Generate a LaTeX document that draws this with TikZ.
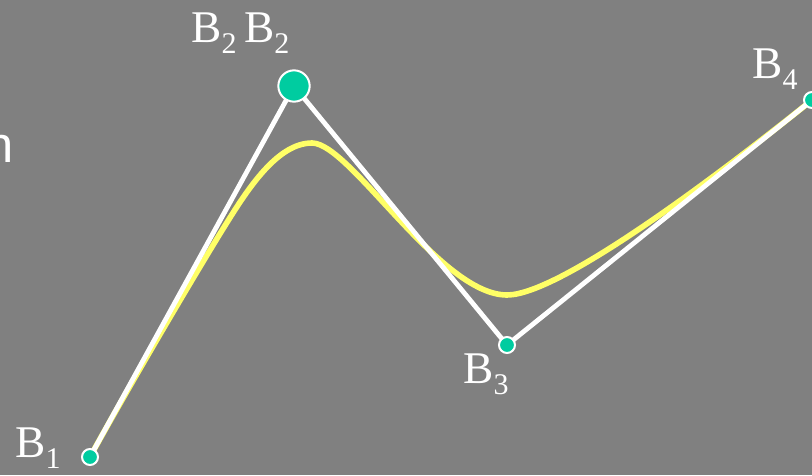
\documentclass[tikz,border=0pt]{standalone}
\usepackage{fontspec}
\setmainfont{Liberation Serif}
\newfontfamily\labsans{Liberation Sans}
\definecolor{bggray}{RGB}{128,128,128}
\definecolor{teal}{RGB}{0,204,160}
\definecolor{ylw}{RGB}{255,255,102}
\newcommand{\blab}[1]{B\raisebox{-8.5pt}{\fontsize{22.5}{22.5}\selectfont #1}}
\tikzset{
  wline/.style={white, line width=3.6pt, line join=round, line cap=round},
  ycurve/.style={ylw, line width=4.2pt, line cap=round},
  smalldot/.style={circle, fill=teal, draw=white, line width=1.5pt, minimum size=12pt, inner sep=0pt},
  bigdot/.style={circle, fill=teal, draw=white, line width=1.5pt, minimum size=23.5pt, inner sep=0pt},
  lab/.style={white, font=\fontsize{34}{34}\selectfont, inner sep=0pt, anchor=base west}
}
\begin{document}
\begin{tikzpicture}[x=0.75pt,y=-0.75pt]
\path[use as bounding box, fill=bggray] (0,0) rectangle (812,475);
\coordinate (p1) at (90,457);
\coordinate (p2) at (294,86);
\coordinate (p3) at (507,345);
\coordinate (p4) at (812,100);
\coordinate (pm) at (226,224);
\coordinate (pk) at (312,143);
\coordinate (bt) at (507,295);
\node[white, font=\labsans\fontsize{38}{38}\selectfont, anchor=base east, inner sep=0pt] (ntext) at (14,162) {n};
\draw[ycurve] (p1) .. controls (132.4,379.9) and (202.1,262.2) .. (pm)
  .. controls (247.2,190.1) and (277,143) .. (pk)
  .. controls (350,143) and (440,295) .. (bt)
  .. controls (560,295) and (720.5,173.5) .. (p4);
\draw[wline] (p1) -- (p2) -- (p3) -- (p4);
\node[smalldot] (B1) at (p1) {};
\node[bigdot] (B2) at (p2) {};
\node[smalldot] (B3) at (p3) {};
\node[smalldot] (B4) at (p4) {};
\node[lab] (l1) at (15,457) {\blab{1}};
\node[lab] (l2) at (191,42) {\blab{2}\,\blab{2}};
\node[lab] (l3) at (463,383) {\blab{3}};
\node[lab] (l4) at (752,78) {\blab{4}};
\end{tikzpicture}
\end{document}
